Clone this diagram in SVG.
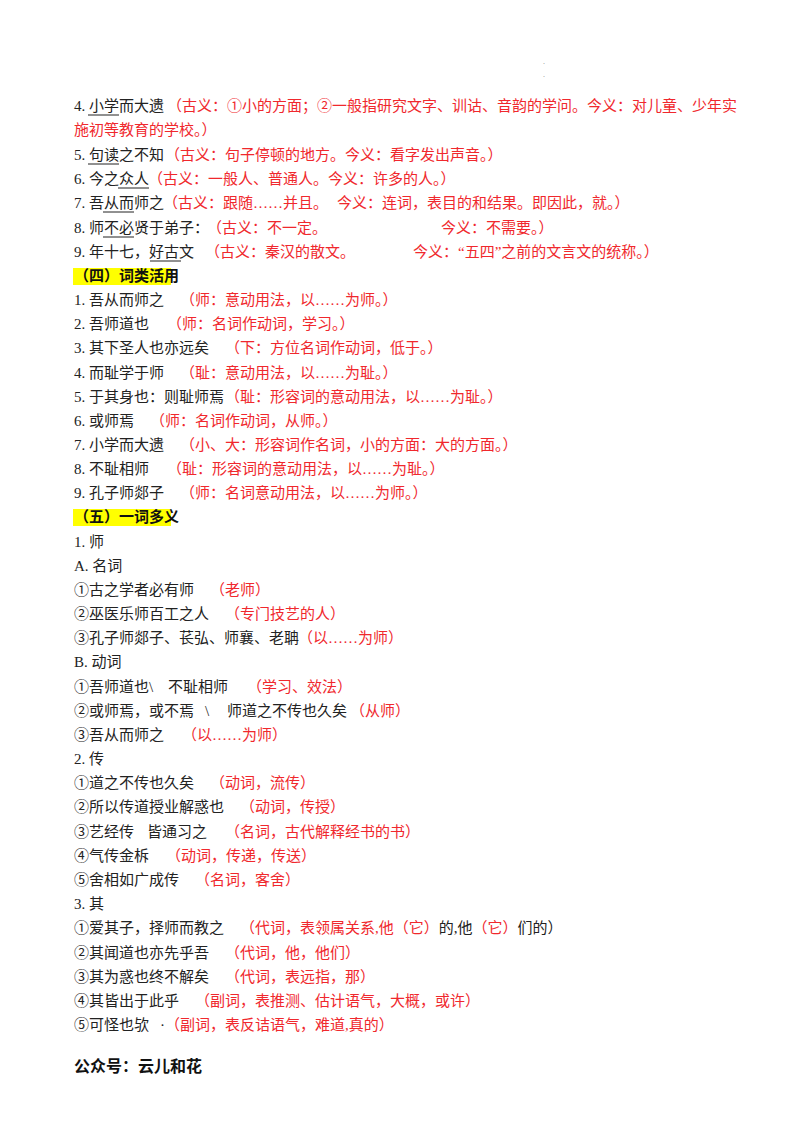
<svg xmlns="http://www.w3.org/2000/svg" width="800" height="1132" viewBox="0 0 800 1132">
<style>
text{font-family:"Liberation Serif","Noto Sans CJK SC",serif;font-size:15px;fill:#222}
.r{fill:#f0282d}
.h{font-weight:bold;fill:#111}
.u{stroke:#222;stroke-width:1}
</style>
<rect width="800" height="1132" fill="#fff"/>
<text x="543" y="64" style="font-size:8px;fill:#888">.</text>
<text x="543" y="77" style="font-size:8px;fill:#888">.</text>
<g id="s3">
<text x="74" y="111">4. 小学而大遗<tspan class="r" x="167">（古义：①小的方面；②一般指研究文字、训诂、音韵的学问。今义：对儿童、少年实</tspan></text>
<text x="74" y="135" class="r">施初等教育的学校。）</text>
<text x="74" y="160">5. 句读之不知<tspan class="r" x="165">（古义：句子停顿的地方。今义：看字发出声音。）</tspan></text>
<text x="74" y="184">6. 今之众人<tspan class="r" x="148">（古义：一般人、普通人。今义：许多的人。）</tspan></text>
<text x="74" y="208">7. 吾从而师之<tspan class="r" x="163">（古义：跟随……并且。</tspan><tspan class="r" x="337">今义：连词，表目的和结果。即因此，就。）</tspan></text>
<text x="74" y="233">8. 师不必贤于弟子：<tspan class="r" x="207">（古义：不一定。</tspan><tspan class="r" x="441">今义：不需要。）</tspan></text>
<text x="74" y="257">9. 年十七，好古文<tspan class="r" x="205">（古义：秦汉的散文。</tspan><tspan class="r" x="413">今义：“五四”之前的文言文的统称。）</tspan></text>
<g class="u">
<line x1="88" y1="115" x2="119" y2="115"/><line x1="88" y1="164" x2="119" y2="164"/>
<line x1="118" y1="188" x2="149" y2="188"/><line x1="103" y1="212" x2="134" y2="212"/>
<line x1="103" y1="237" x2="134" y2="237"/><line x1="150" y1="261" x2="181" y2="261"/>
</g>
</g>
<g id="s4">
<rect x="73" y="268" width="98" height="17" fill="#ffff00"/>
<text x="74" y="281" class="h">（四）词类活用</text>
<text x="74" y="305">1. 吾从而师之<tspan class="r" x="180">（师：意动用法，以……为师。）</tspan></text>
<text x="74" y="329">2. 吾师道也<tspan class="r" x="167">（师：名词作动词，学习。）</tspan></text>
<text x="74" y="353">3. 其下圣人也亦远矣<tspan class="r" x="225">（下：方位名词作动词，低于。）</tspan></text>
<text x="74" y="378">4. 而耻学于师<tspan class="r" x="180">（耻：意动用法，以……为耻。）</tspan></text>
<text x="74" y="402">5. 于其身也：则耻师焉<tspan class="r" x="225">（耻：形容词的意动用法，以……为耻。）</tspan></text>
<text x="74" y="426">6. 或师焉<tspan class="r" x="150">（师：名词作动词，从师。）</tspan></text>
<text x="74" y="450">7. 小学而大遗<tspan class="r" x="180">（小、大：形容词作名词，小的方面：大的方面。）</tspan></text>
<text x="74" y="474">8. 不耻相师<tspan class="r" x="167">（耻：形容词的意动用法，以……为耻。）</tspan></text>
<text x="74" y="498">9. 孔子师郯子<tspan class="r" x="180">（师：名词意动用法，以……为师。）</tspan></text>
</g>
<g id="s5">
<rect x="73" y="509" width="98" height="17" fill="#ffff00"/>
<text x="74" y="522" class="h">（五）一词多义</text>
<text x="74" y="547">1. 师</text>
<text x="74" y="571">A. 名词</text>
<text x="74" y="595">①古之学者必有师<tspan class="r" x="210">（老师）</tspan></text>
<text x="74" y="619">②巫医乐师百工之人<tspan class="r" x="225">（专门技艺的人）</tspan></text>
<text x="74" y="643">③孔子师郯子、苌弘、师襄、老聃<tspan class="r" x="298">（以……为师）</tspan></text>
<text x="74" y="667">B. 动词</text>
<text x="74" y="692">①吾师道也\<tspan x="168">不耻相师</tspan><tspan class="r" x="247">（学习、效法）</tspan></text>
<text x="74" y="716">②或师焉，或不焉<tspan x="205">\</tspan><tspan x="227">师道之不传也久矣</tspan><tspan class="r" x="350">（从师）</tspan></text>
<text x="74" y="740">③吾从而师之<tspan class="r" x="182">（以……为师）</tspan></text>
<text x="74" y="764">2. 传</text>
<text x="74" y="788">①道之不传也久矣<tspan class="r" x="210">（动词，流传）</tspan></text>
<text x="74" y="812">②所以传道授业解惑也<tspan class="r" x="240">（动词，传授）</tspan></text>
<text x="74" y="837">③艺经传<tspan x="147">皆通习之</tspan><tspan class="r" x="225">（名词，古代解释经书的书）</tspan></text>
<text x="74" y="861">④气传金柝<tspan class="r" x="166">（动词，传递，传送）</tspan></text>
<text x="74" y="885">⑤舍相如广成传<tspan class="r" x="195">（名词，客舍）</tspan></text>
<text x="74" y="909">3. 其</text>
<text x="74" y="933">①爱其子，择师而教之<tspan class="r" x="240">（代词，表领属关系,他（它）</tspan><tspan>的,他</tspan><tspan class="r">（它）</tspan><tspan>们的）</tspan></text>
<text x="74" y="958">②其闻道也亦先乎吾<tspan class="r" x="225">（代词，他，他们）</tspan></text>
<text x="74" y="982">③其为惑也终不解矣<tspan class="r" x="225">（代词，表远指，那）</tspan></text>
<text x="74" y="1006">④其皆出于此乎<tspan class="r" x="195">（副词，表推测、估计语气，大概，或许）</tspan></text>
<text x="74" y="1030">⑤可怪也欤<tspan x="160">·</tspan><tspan class="r" x="165">（副词，表反诘语气，难道,真的）</tspan></text>
</g>
<text x="74" y="1072" style="font-size:16px;font-weight:bold;fill:#111">公众号：云儿和花</text>
</svg>
